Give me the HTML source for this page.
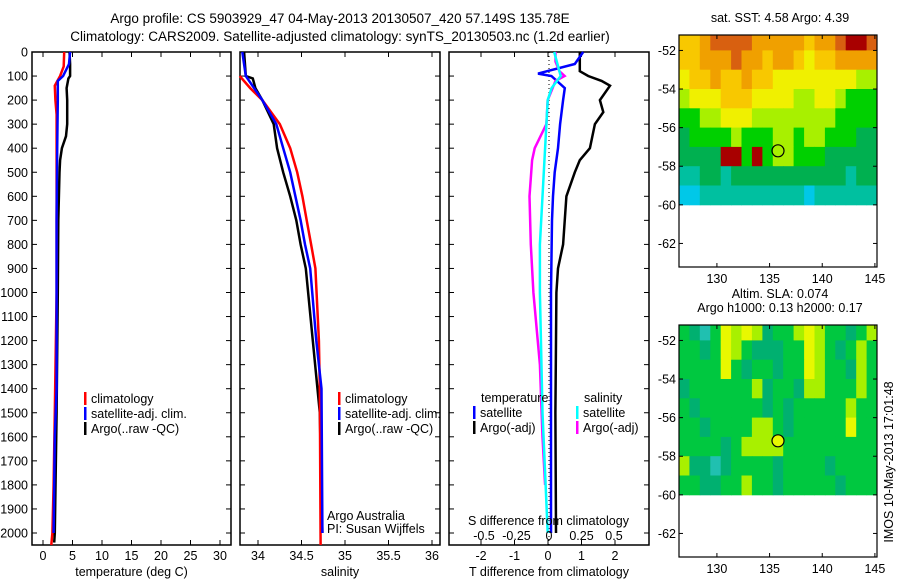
<!DOCTYPE html>
<html><head><meta charset="utf-8"><style>
body{margin:0;background:#fff;width:900px;height:580px;overflow:hidden}
svg{font-family:"Liberation Sans",sans-serif;font-size:12.5px}
</style></head><body>
<svg id="c" width="900" height="580" xmlns="http://www.w3.org/2000/svg">
<text x="340" y="23" text-anchor="middle" font-size="13.5">Argo profile: CS 5903929_47 04-May-2013 20130507_420 57.149S 135.78E</text>
<text x="340" y="41" text-anchor="middle" font-size="13.5">Climatology: CARS2009. Satellite-adjusted climatology: synTS_20130503.nc (1.2d earlier)</text>
</svg>
<script>
// ---- data ----
const tempDepthArgo=[0,50,100,110,150,200,300,350,400,450,500,700,1000,1500,2000,2040];
const tempArgo=[4.5,4.6,4.6,4.3,4.0,4.1,4.1,3.9,3.2,2.9,2.8,2.6,2.5,2.3,2.0,1.9];
const tempDepthClim=[0,60,100,140,200,260,300,1000,1500,1800,2000,2050];
const tempClim=[3.6,3.5,2.9,2.0,2.1,2.3,2.3,2.3,2.0,1.8,1.6,1.4];
const tempDepthSat=[0,50,100,120,200,400,700,1000,1400,1600,2000];
const tempSat=[4.6,4.4,3.4,2.5,2.5,2.4,2.3,2.3,2.3,2.0,1.8];
const salDepthClim=[100,150,200,300,400,500,600,700,800,900,1200,1400,2050];
const salClim=[33.79,33.91,34.05,34.25,34.37,34.45,34.51,34.56,34.61,34.66,34.70,34.71,34.72];
const salDepthSat=[0,100,200,300,400,500,600,700,800,900,1200,1400,2000];
const salSat=[33.82,33.86,34.05,34.21,34.29,34.37,34.43,34.49,34.54,34.60,34.67,34.73,34.74];
const salDepthArgo=[0,100,110,150,200,300,400,500,600,700,800,900,1200,1500,2000];
const salArgo=[33.84,33.86,33.94,33.97,34.05,34.18,34.22,34.29,34.37,34.44,34.49,34.55,34.63,34.71,34.74];
const diffDepthT=[0,80,100,120,140,200,250,300,400,450,500,600,800,900,1000,1500,2000];
const diffArgoT=[0.95,0.95,1.2,1.6,1.85,1.55,1.65,1.4,1.25,0.95,0.8,0.55,0.45,0.3,0.25,0.22,0.24];
const diffDepthTs=[0,50,90,100,150,200,300,400,500,600,700,1000,2000];
const diffSatT=[1.05,0.8,-0.3,0.1,0.5,0.45,0.36,0.3,0.2,0.15,0.12,0.09,0.09];
const diffDepthS=[0,100,150,200,400,600,800,1000,1500,2000];
const diffSatS=[0.04,0.09,0.02,-0.01,-0.03,-0.05,-0.07,-0.07,-0.05,-0.01];
const diffDepthSa=[0,40,80,100,120,200,300,400,450,600,800,1000,1300,1600,1800];
const diffArgoS=[0.05,0.05,0.08,0.12,0.05,-0.01,-0.02,-0.11,-0.13,-0.15,-0.14,-0.12,-0.07,-0.05,-0.03];
const sstGrid=[
[6,6,7,8,8,8,8,7,7,7,7,7,6,7,7,8,9,9,8],
[6,6,7,7,7,8,7,7,6,7,7,6,5,6,6,7,7,7,7],
[5,6,6,7,6,6,7,6,6,5,5,5,5,5,5,5,5,4,4],
[4,5,5,5,6,6,6,5,5,5,5,4,4,5,5,4,3,3,3],
[3,3,4,4,5,5,5,4,4,4,4,4,4,4,4,3,3,3,3],
[2,3,3,3,3,4,3,3,3,4,4,3,4,4,3,3,3,2,2],
[2,2,2,2,9,9,3,9,3,4,4,3,3,3,2,2,2,2,2],
[1,1,2,2,1,2,2,2,2,2,2,2,2,2,2,2,1,2,2],
[0,0,1,1,1,1,1,1,1,1,1,1,0,1,1,1,1,1,1]];
const slaGrid=[
[2,1,0,2,4,3,4,3,1,2,2,3,4,3,2,2,1,2,3],
[2,2,1,2,4,3,2,1,1,1,2,2,4,3,2,1,2,3,2],
[2,2,2,2,4,2,1,2,2,1,2,2,4,3,2,2,1,3,2],
[1,2,2,2,2,2,2,3,1,2,2,1,3,3,2,2,2,3,2],
[2,1,2,2,2,2,2,2,1,2,1,2,2,2,2,2,3,2,2],
[2,2,1,2,2,2,2,3,3,2,1,2,2,2,2,2,4,2,2],
[2,2,2,2,1,2,3,3,3,3,2,2,2,2,2,2,2,2,2],
[3,1,1,0,1,2,2,2,2,1,2,2,2,2,1,2,2,2,2],
[2,2,1,1,2,2,3,2,2,1,2,2,2,2,2,1,2,2,2]];
const depthTicks=[0,100,200,300,400,500,600,700,800,900,1000,1100,1200,1300,1400,1500,1600,1700,1800,1900,2000];
const tempTicks=[0,5,10,15,20,25,30];
const salTicks=[34,34.5,35,35.5,36];
const tdTicks=[-2,-1,0,1,2];
const sdTicks=[-0.5,-0.25,0,0.25,0.5];
const latTicks=[-52,-54,-56,-58,-60,-62];
const lonTicks=[130,135,140,145];

const NS="http://www.w3.org/2000/svg";
const svg=document.getElementById('c');
function el(tag,at,parent){const e=document.createElementNS(NS,tag);for(const k in at)e.setAttribute(k,at[k]);(parent||svg).appendChild(e);return e;}
function txt(x,y,s,anchor,parent){const t=el('text',{x:x,y:y,'text-anchor':anchor||'start'},parent);t.textContent=s;return t;}
const yD=d=>52+d*0.2405;
const PT=52,PB=545;
function panel(name,x0,x1,xs,ticks,labels,title){
  const g=el('g',{});
  
  
  el('rect',{x:x0,y:PT,width:x1-x0,height:PB-PT,fill:'none',stroke:'#000','stroke-width':1.5},g);
  ticks.forEach((v,i)=>{const x=xs(v);
    el('line',{x1:x,x2:x,y1:PB,y2:PB-5,stroke:'#000'},g);
    el('line',{x1:x,x2:x,y1:PT,y2:PT+5,stroke:'#000'},g);
    const t=txt(x,560,labels[i],'middle',g);
    
    });
  depthTicks.forEach(d=>{el('line',{x1:x0,x2:x0+5,y1:yD(d),y2:yD(d),stroke:'#000'},g);el('line',{x1:x1,x2:x1-5,y1:yD(d),y2:yD(d),stroke:'#000'},g);});
  const tt=txt((x0+x1)/2,576,title,'middle',g);
  
  
  return g;
}
function line(g,xs,vals,deps,col,name){
  const pts=vals.map((v,i)=>xs(v).toFixed(1)+','+yD(deps[i]).toFixed(1)).join(' ');
  const p=el('polyline',{points:pts,fill:'none',stroke:col,'stroke-width':2.5},g);
  
  
}
function legend(g,x,y,col,label){
  el('rect',{x:x,y:y-11,width:2.5,height:13,fill:col},g);
  const t=txt(x+7,y,label,'start',g);
  
  
}
// y tick labels
depthTicks.forEach(d=>{const t=txt(28,yD(d)+4.5,String(d),'end');
  
  });
// temperature panel
const xT=v=>43+v*5.9;
const g1=panel('temperature-panel',32,231,xT,tempTicks,tempTicks.map(String),'temperature (deg C)');
line(g1,xT,tempArgo,tempDepthArgo,'#000','argo-temp-line');
line(g1,xT,tempClim,tempDepthClim,'#f00','clim-temp-line');
line(g1,xT,tempSat,tempDepthSat,'#00f','sat-temp-line');
legend(g1,84,403,'#f00','climatology');legend(g1,84,418,'#00f','satellite-adj. clim.');legend(g1,84,433,'#000','Argo(..raw -QC)');
// salinity panel
const xS=v=>258+(v-34)*87;
const g2=panel('salinity-panel',240,440,xS,salTicks,['34','34.5','35','35.5','36'],'salinity');
line(g2,xS,salArgo,salDepthArgo,'#000','argo-sal-line');
line(g2,xS,salClim,salDepthClim,'#f00','clim-sal-line');
line(g2,xS,salSat,salDepthSat,'#00f','sat-sal-line');
legend(g2,338,403,'#f00','climatology');legend(g2,338,418,'#00f','satellite-adj. clim.');legend(g2,338,433,'#000','Argo(..raw -QC)');
txt(327,520,'Argo Australia','start',g2);
txt(327,533,'PI: Susan Wijffels','start',g2);
// difference panel
const xTd=v=>548+v*33.5, xSd=v=>549+v*130;
const g3=panel('difference-panel',449,649,xTd,tdTicks,['-2','-1','0','1','2'],'T difference from climatology');
el('line',{x1:549,x2:549,y1:PT,y2:PB,stroke:'#000','stroke-dasharray':'1,3'},g3);
line(g3,xTd,diffArgoT,diffDepthT,'#000','argo-tdiff-line');
line(g3,xTd,diffSatT,diffDepthTs,'#00f','sat-tdiff-line');
line(g3,xSd,diffArgoS,diffDepthSa,'#f0f','argo-sdiff-line');
line(g3,xSd,diffSatS,diffDepthS,'#0ff','sat-sdiff-line');
txt(481,402,'temperature','start',g3);txt(584,402,'salinity','start',g3);
legend(g3,473,417,'#00f','satellite');legend(g3,473,432,'#000','Argo(-adj)');
legend(g3,576,417,'#0ff','satellite');legend(g3,576,432,'#f0f','Argo(-adj)');
txt(468,525,'S difference from climatology','start',g3);
sdTicks.forEach(v=>{const t=txt(xSd(v),540,String(v),'middle',g3);});
// maps
const sstCols=['#00c8e8','#00c0a0','#00b050','#00d000','#a8f000','#f0f000','#f8c800','#f0a000','#d86010','#a80000'];
const slaCols=['#20c0b0','#00b070','#00c840','#a8f000','#e8f800'];
function map(name,oy,grid,cols,titles){
  const g=el('g',{});
  
  
  const X0=679,X1=877,T=oy+35,B=oy+267;
  const xL=l=>X0+(l-126.4)*(X1-X0)/18.8, yL=l=>T+(-l-51.2)*19.3;
  grid.forEach((row,r)=>row.forEach((v,c)=>{
    const x=xL(126.4+c*18.8/19), y=yL(r===0?-51.2:-(51+r));
    const h=yL(-(52+r))-y;
    const cell=el('rect',{x:x.toFixed(1),y:y.toFixed(1),width:(198/19+0.5).toFixed(1),height:(h+0.5).toFixed(1),fill:cols[v]},g);
    
    
  }));
  el('rect',{x:X0,y:T,width:X1-X0,height:B-T,fill:'none',stroke:'#000','stroke-width':1.2},g);
  latTicks.forEach(l=>{const y=yL(l);el('line',{x1:X0,x2:X0+4,y1:y,y2:y,stroke:'#000'},g);el('line',{x1:X1,x2:X1-4,y1:y,y2:y,stroke:'#000'},g);
    txt(676,y+4.5,String(l),'end',g);});
  lonTicks.forEach(l=>{const x=xL(l);el('line',{x1:x,x2:x,y1:B,y2:B-4,stroke:'#000'},g);el('line',{x1:x,x2:x,y1:T,y2:T+4,stroke:'#000'},g);
    txt(x,B+16,String(l),'middle',g);});
  const c=el('circle',{cx:xL(135.8),cy:yL(-57.2),r:6,fill:name==='sla-map'?'#e8f800':'none',stroke:'#000','stroke-width':1.2},g);
  
  
  titles.forEach((s,i)=>{const t=txt(780,oy+22-(titles.length-1-i)*14,s,'middle',g);});
}
map('sst-map',0,sstGrid,sstCols,['sat. SST: 4.58 Argo: 4.39']);
map('sla-map',290,slaGrid,slaCols,['Altim. SLA: 0.074','Argo h1000: 0.13 h2000: 0.17']);
const im=txt(0,0,'IMOS 10-May-2013 17:01:48','middle');
im.setAttribute('transform','translate(893,462) rotate(-90)');


</script>
</body></html>
